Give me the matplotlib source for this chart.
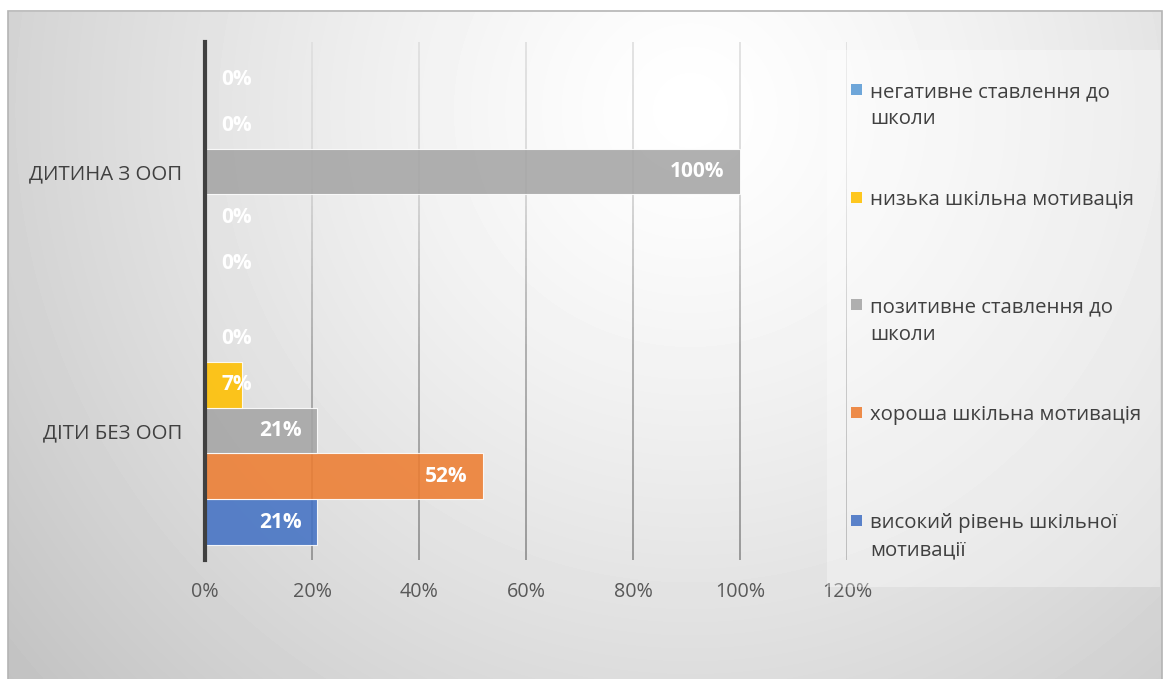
import numpy as np
import matplotlib
matplotlib.use("Agg")
import matplotlib.pyplot as plt
from matplotlib.collections import LineCollection
from matplotlib.patches import Rectangle

plt.rcParams["font.family"] = ["Open Sans", "DejaVu Sans"]

# ---- data ----
categories = ["ДІТИ БЕЗ ООП", "ДИТИНА З ООП"]
series_names = [
    "високий рівень шкільної\nмотивації",
    "хороша шкільна мотивація",
    "позитивне ставлення до\nшколи",
    "низька шкільна мотивація",
    "негативне ставлення до\nшколи",
]
high_motivation = [21, 0]
good_motivation = [52, 0]
positive_attitude = [21, 100]
low_motivation = [7, 0]
negative_attitude = [0, 0]
series_values = [high_motivation, good_motivation, positive_attitude,
                 low_motivation, negative_attitude]
series_colors = ["#4472C4", "#ED7D31", "#A5A5A5", "#FFC000", "#5B9BD5"]
x_ticks = [0, 20, 40, 60, 80, 100, 120]

# ---- canvas ----
W, H = 1168, 679
fig = plt.figure(figsize=(W / 100, H / 100), dpi=100)
fig.patch.set_facecolor("white")


def fx(px):
    return px / W


def fy(py):
    return 1 - py / H


# chart panel with a soft radial gradient
pl, pt, pr = 8, 12, 1162
bg = fig.add_axes([fx(pl), 0, fx(pr - pl), (H - pt) / H], zorder=-10)
bg.set_axis_off()
ph, pw = H - pt, pr - pl
yy, xx = np.mgrid[0:ph, 0:pw]
d = np.hypot(xx - (690 - pl), (yy - (110 - pt)) * 1.0)
shade = 1 - 0.235 * (d / 874) ** 1.3
bg.imshow(shade, cmap="gray", vmin=0, vmax=1, aspect="auto",
          extent=[0, 1, 0, 1], origin="upper", interpolation="bilinear")
bg.set_xlim(0, 1)
bg.set_ylim(0, 1)
fig.patches.append(Rectangle((fx(pl), -0.01), fx(pw), (ph + 8) / H,
                             transform=fig.transFigure, fill=False,
                             edgecolor="#b4b4b4", linewidth=1.2, zorder=-5))

# ---- plot area ----
ax = fig.add_axes([fx(205), fy(560), fx(847 - 205), (560 - 42) / H])
ax.patch.set_alpha(0)
ax.set_xlim(0, 120)
ax.set_ylim(-0.5, len(categories) - 0.5)

# vertical gridlines shading from light at the top to darker at the bottom
n_seg = 60
ys = np.linspace(-0.5, len(categories) - 0.5, n_seg + 1)
mid = (ys[:-1] + ys[1:]) / 2
depth = 1 - (mid + 0.5) / len(categories)  # 0 at top, 1 at bottom
gray = np.interp(depth, [0, 0.25, 0.6, 1.0], [0.87, 0.84, 0.64, 0.55])
for t in x_ticks[1:]:
    segs = [[(t, ys[k]), (t, ys[k + 1])] for k in range(n_seg)]
    lc = LineCollection(segs, colors=[(g, g, g) for g in gray],
                        linewidths=1.2, zorder=1)
    ax.add_collection(lc)

# bars
n_series = len(series_values)
bar_h = 0.888 / n_series
y_pos = np.arange(len(categories))
bar_groups = []
for i, (vals, col) in enumerate(zip(series_values, series_colors)):
    bars = ax.barh(y_pos + (i - (n_series - 1) / 2) * bar_h, vals,
                   height=bar_h, color=col, alpha=0.88,
                   edgecolor="white", linewidth=0.8, zorder=3)
    bar_groups.append((bars, vals))

# axes styling
for s in ("top", "right", "bottom"):
    ax.spines[s].set_visible(False)
ax.spines["left"].set_color("#404040")
ax.spines["left"].set_linewidth(3)
ax.spines["left"].set_zorder(5)
ax.set_xticks(x_ticks)
ax.set_xticklabels([f"{t}%" for t in x_ticks])
ax.set_yticks(y_pos)
ax.set_yticklabels(categories)
ax.tick_params(axis="x", length=0, pad=16, labelsize=14.2, labelcolor="#595959")
ax.tick_params(axis="y", length=0, pad=16.5, labelsize=14.7, labelcolor="#404040")

# data labels: inside the bar end, or next to the axis when the bar is short
pad_pt = 16 * 72 / 100
labels = []
for bars, vals in bar_groups:
    for rect, v in zip(bars, vals):
        yc = rect.get_y() + rect.get_height() / 2
        t = ax.annotate(f"{v}%", xy=(v, yc), xytext=(-pad_pt, 0),
                        textcoords="offset points", ha="right", va="center",
                        color="white", fontsize=15, fontweight="bold",
                        zorder=6)
        labels.append((t, v, yc))

fig.canvas.draw()
renderer = fig.canvas.get_renderer()
x0_px = ax.transData.transform((0, 0))[0]
for t, v, yc in labels:
    ext = t.get_window_extent(renderer)
    if ext.x0 < x0_px + 16:
        t.xy = (0, yc)
        t.set_position((pad_pt, 0))
        t.set_ha("left")

# legend panel
fig.patches.append(Rectangle((fx(827), fy(587)), fx(1160 - 827), (587 - 50) / H,
                             transform=fig.transFigure, facecolor="white",
                             alpha=0.35, edgecolor="none", zorder=2))
order = list(range(n_series))[::-1]
for k, i in enumerate(order):
    base = 97 + 107.75 * k
    fig.patches.append(Rectangle((fx(851), fy(base - 2)), fx(11), 11 / H,
                                 transform=fig.transFigure,
                                 facecolor=series_colors[i], alpha=0.88,
                                 edgecolor="none", zorder=3))
    for j, line in enumerate(series_names[i].split("\n")):
        fig.text(fx(870), fy(base + j * 27.5), line, ha="left", va="baseline",
                 fontsize=14.7, color="#404040", zorder=4)

fig.savefig("out.png", dpi=100, facecolor="white")
